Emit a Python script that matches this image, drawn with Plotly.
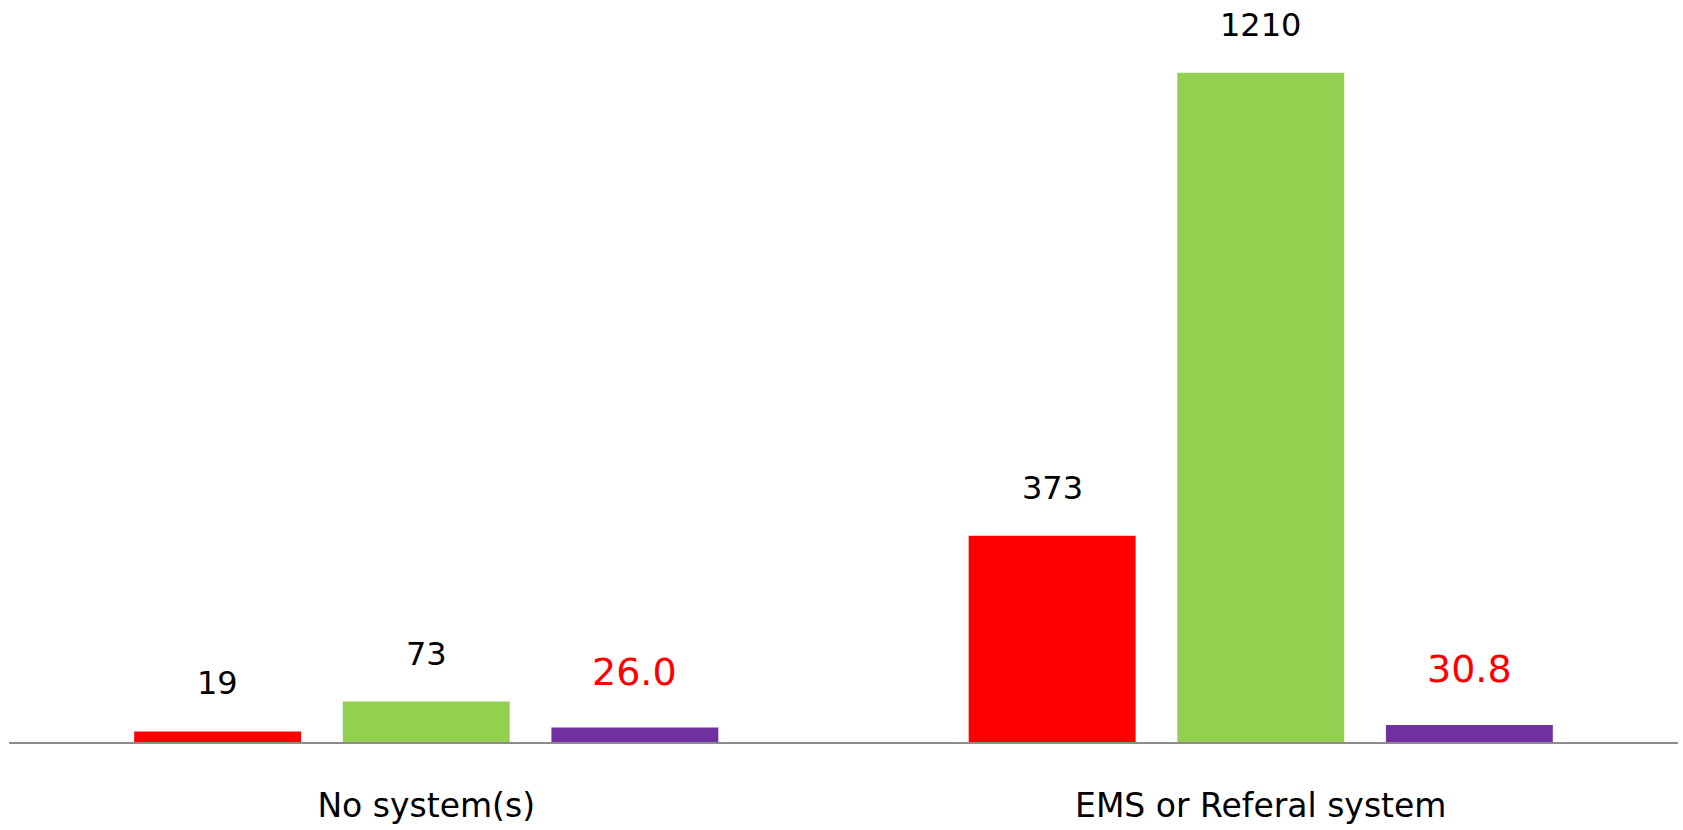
import plotly.graph_objects as go

categories = ["No system(s)", "EMS or Referal system"]
events = [19, 373]
totals = [73, 1210]
percent = [26.0, 30.8]

count_labels_events = ["19", "373"]
count_labels_totals = ["73", "1210"]
percent_labels = ["26.0", "30.8"]

series = [
    ("Events", events, "#FF0000", count_labels_events, "black", 32, 48),
    ("Total", totals, "#92D050", count_labels_totals, "black", 32, 48),
    ("Percent", percent, "#7030A0", percent_labels, "#FF0000", 38, 56),
]

FONT = "DejaVu Sans, sans-serif"
BARGAP = 0.25
n_series = len(series)
slot = (1 - BARGAP) / n_series

fig = go.Figure()
annotations = []
for j, (name, vals, color, labels, lcolor, lsize, lshift) in enumerate(series):
    fig.add_trace(go.Bar(name=name, x=categories, y=vals, marker=dict(color=color, line=dict(width=0)),
                         showlegend=False, hoverinfo="x+y"))
    offset = (j - (n_series - 1) / 2) * slot
    for i, (v, lab) in enumerate(zip(vals, labels)):
        annotations.append(dict(x=i + offset, y=v, xref="x", yref="y", text=lab, showarrow=False,
                                yshift=lshift, yanchor="middle",
                                font=dict(family=FONT, size=lsize, color=lcolor)))

fig.update_layout(
    width=1683, height=830,
    margin=dict(l=9, r=5, t=8, b=86),
    barmode="group", bargap=BARGAP, bargroupgap=0.2,
    plot_bgcolor="white", paper_bgcolor="white",
    annotations=annotations,
    font=dict(family=FONT, color="black"),
)
fig.update_xaxes(showline=True, linecolor="#8C8C8C", linewidth=2, ticks="", showgrid=False,
                 tickfont=dict(family=FONT, size=33, color="black"), ticklabelstandoff=33)
fig.update_yaxes(visible=False, range=[0, 1327], showgrid=False, zeroline=False)

fig.write_html("out.html", config={"displayModeBar": False},
               post_script="document.body.style.margin='0';document.body.style.overflow='hidden';")
